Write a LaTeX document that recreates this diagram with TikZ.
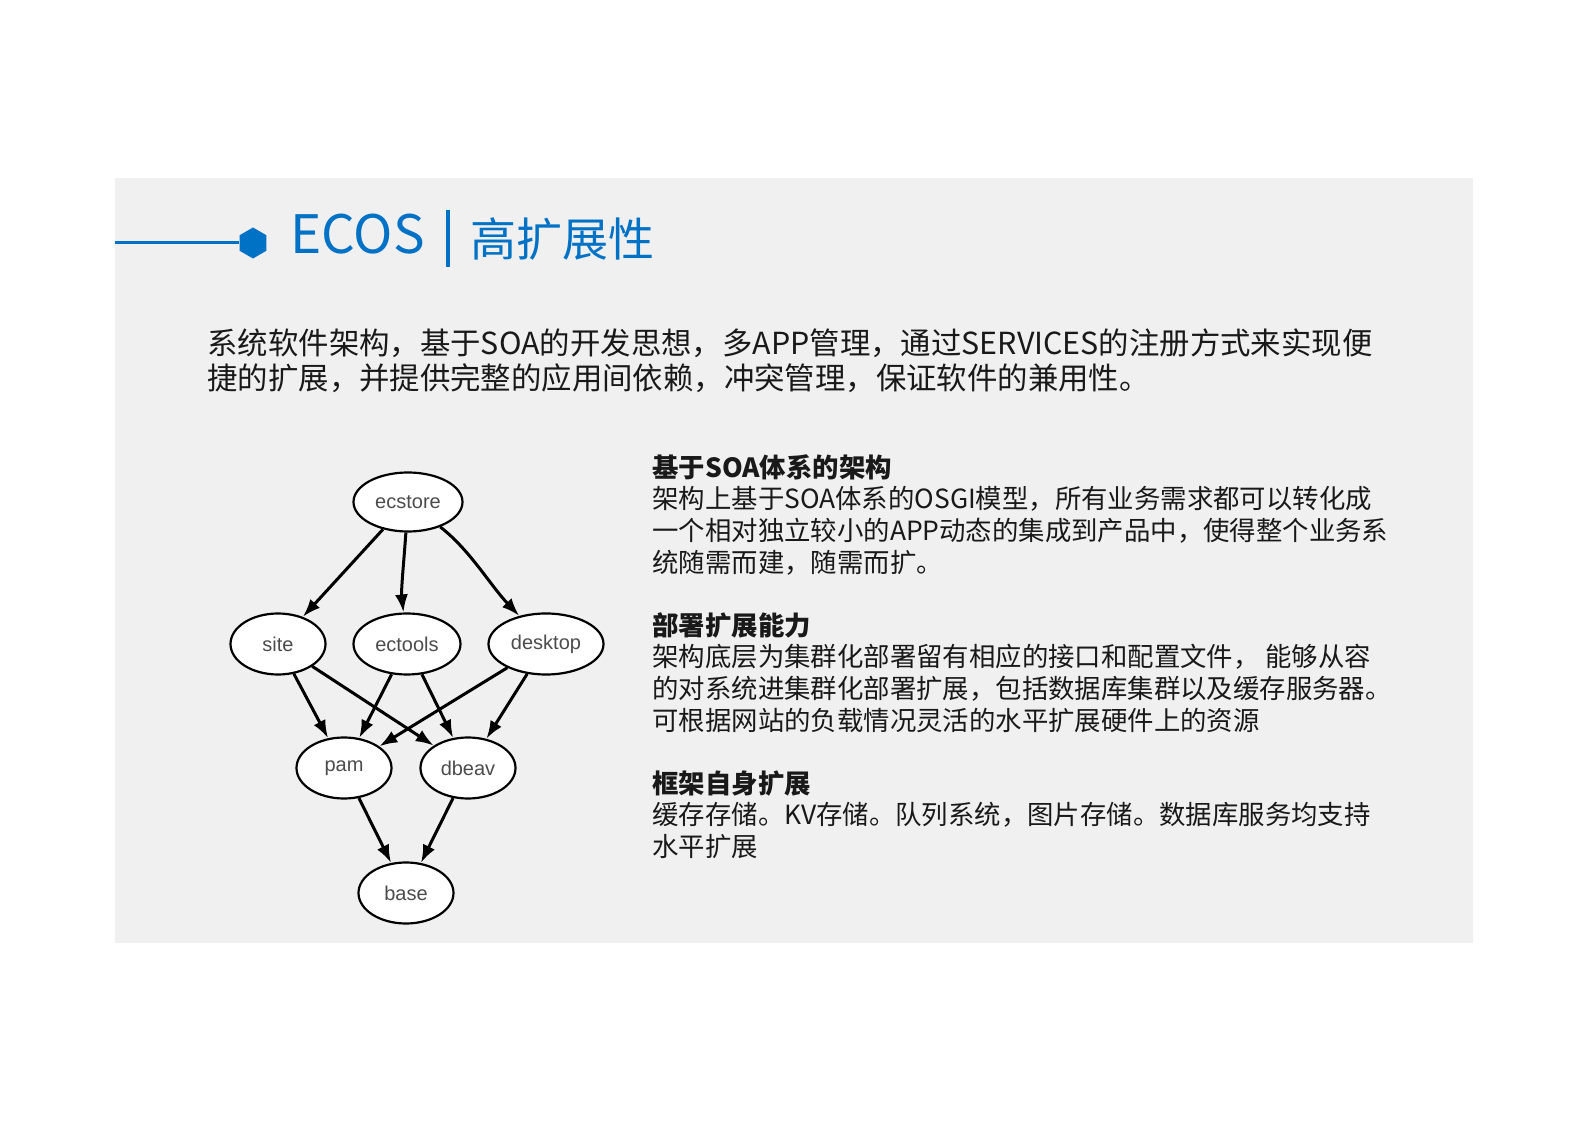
\documentclass[tikz,border=0pt]{standalone}
\usepackage{fontspec}
\setmainfont{Noto Sans CJK SC}
\newfontfamily\graphfont{Liberation Sans}
\usetikzlibrary{shapes.geometric,arrows.meta}

\definecolor{ecosblue}{RGB}{0,114,198}
\definecolor{panelgrey}{RGB}{240,240,240}
\definecolor{bodytext}{RGB}{25,25,25}

\begin{document}
\begin{tikzpicture}[x=0.5pt,y=-0.5pt]
  \def\appheight{30.5pt}
  \tikzstyle{app} = [ellipse, draw, line width=1.1pt, fill=white, inner sep=0pt, minimum height=\appheight, text=black!70, font=\graphfont\fontsize{10pt}{12pt}\selectfont]
  \tikzstyle{dep} = [line width=1.5pt, -{Latex[length=9pt,width=6.5pt]}]
  \tikzstyle{textblock} = [anchor=north west, inner sep=0pt, align=left, text=bodytext, font=\fontsize{13.2pt}{15.8pt}\selectfont]

  \useasboundingbox (0,0) rectangle (1587,1122);
  \fill[white] (0,0) rectangle (1587,1122);
  \fill[panelgrey] (115,178) rectangle (1473,943);

  \begin{scope}
    \coordinate (rule) at (115,243);
    \node[regular polygon, regular polygon sides=6, shape border rotate=30, fill=ecosblue, inner sep=0pt, minimum size=15.5pt] (hex) at (253,243) {};
    \draw[ecosblue, line width=1.5pt] (rule) -- (hex);
    \node[anchor=base west, inner sep=0pt, text=ecosblue, font=\fontsize{26.5pt}{32pt}\selectfont] (ecos) at (290,254) {ECOS};
    \draw[ecosblue, line width=1.75pt] (448,210) -- (448,267);
    \node[anchor=base west, inner sep=0pt, text=ecosblue, font=\fontsize{23pt}{28pt}\selectfont] (topic) at (470,257) {高扩展性};
  \end{scope}

  \node[anchor=north west, inner sep=0pt, align=left, text=bodytext, font=\fontsize{15.2pt}{17.5pt}\selectfont] (intro) at (207,328) {系统软件架构，基于SOA的开发思想，多APP管理，通过SERVICES的注册方式来实现便\\捷的扩展，并提供完整的应用间依赖，冲突管理，保证软件的兼用性。};

  \begin{scope}
    \node[app, minimum width=54.5pt, minimum height=29.5pt] (ecstore) at (408,502) {ecstore};
    \node[app, minimum width=47.5pt] (site) at (278,644) {site};
    \node[app, minimum width=53.5pt] (ectools) at (407,644) {ectools};
    \node[app, minimum width=57.5pt] (desktop) at (546,644) {desktop};
    \node[app, minimum width=47.5pt] (pam) at (344,768) {pam};
    \node[app, minimum width=47.5pt] (dbeav) at (468,768) {dbeav};
    \node[app, minimum width=47.5pt] (base) at (406,893) {base};

    \draw[dep] (ecstore) -- (site);
    \draw[dep] (ecstore) .. controls (404,560) and (401,590) .. (ectools);
    \draw[dep] (ecstore) .. controls (470,550) and (490,585) .. (desktop);
    \draw[dep] (site) -- (pam);
    \draw[dep] (site) -- (dbeav);
    \draw[dep] (ectools) -- (pam);
    \draw[dep] (ectools) -- (dbeav);
    \draw[dep] (desktop) -- (pam);
    \draw[dep] (desktop) -- (dbeav);
    \draw[dep] (pam) -- (base);
    \draw[dep] (dbeav) -- (base);
  \end{scope}

  \node[textblock] (soa) at (652,454) {\textbf{基于SOA体系的架构}\\架构上基于SOA体系的OSGI模型，所有业务需求都可以转化成\\一个相对独立较小的APP动态的集成到产品中，使得整个业务系\\统随需而建，随需而扩。};
  \node[textblock] (deploy) at (652,612) {\textbf{部署扩展能力}\\架构底层为集群化部署留有相应的接口和配置文件， 能够从容\\的对系统进集群化部署扩展，包括数据库集群以及缓存服务器。\\可根据网站的负载情况灵活的水平扩展硬件上的资源};
  \node[textblock] (frame) at (652,770) {\textbf{框架自身扩展}\\缓存存储。KV存储。队列系统，图片存储。数据库服务均支持\\水平扩展};
\end{tikzpicture}
\end{document}
